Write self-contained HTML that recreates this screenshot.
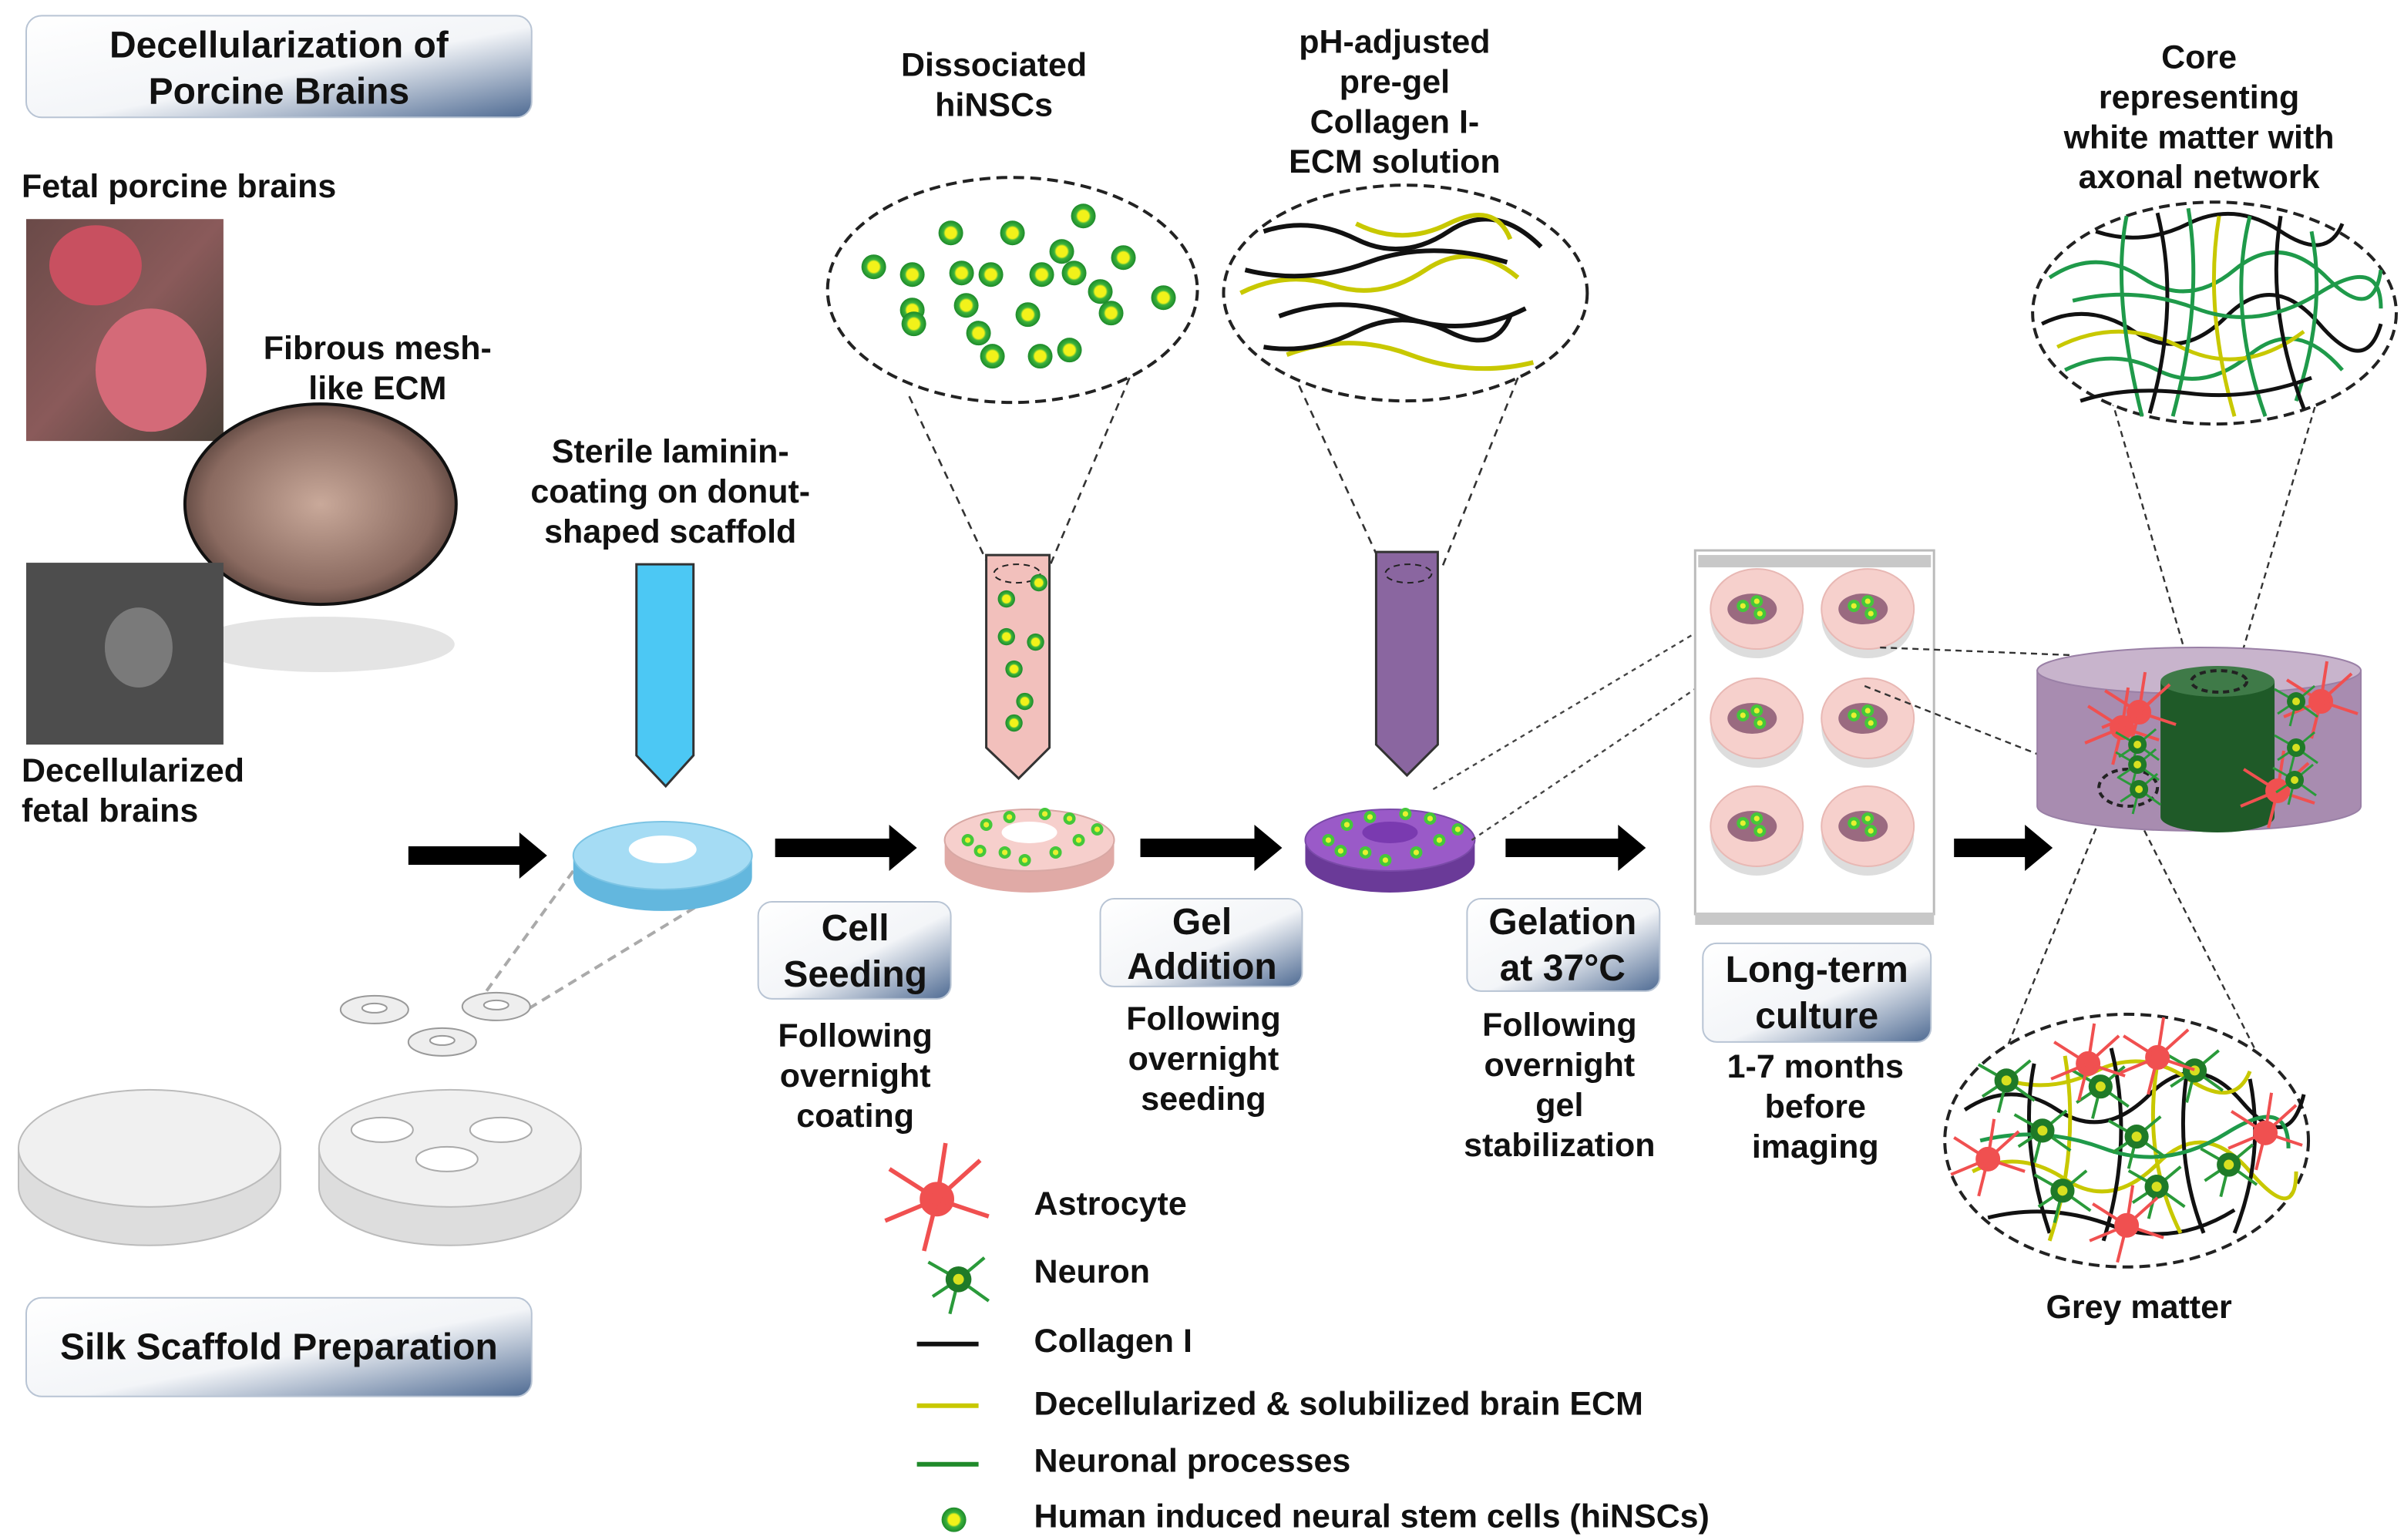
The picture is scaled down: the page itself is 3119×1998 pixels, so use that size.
<!DOCTYPE html>
<html><head><meta charset="utf-8"><style>
html,body{margin:0;padding:0;background:#fff}
svg{display:block}
text{font-family:"Liberation Sans",Arial,sans-serif;font-weight:bold;fill:#111}
</style></head><body>
<svg width="3119" height="1998" viewBox="0 0 1560 999" xmlns="http://www.w3.org/2000/svg">
<defs>
<linearGradient id="bx" x1="0" y1="0" x2="1" y2="1">
<stop offset="0" stop-color="#fff"/><stop offset="0.55" stop-color="#f3f5f8"/><stop offset="1" stop-color="#4f6b93"/></linearGradient>
<linearGradient id="brain" x1="0" y1="0" x2="1" y2="1"><stop offset="0" stop-color="#6a4a48"/><stop offset="0.5" stop-color="#8a5a5a"/><stop offset="1" stop-color="#4a4038"/></linearGradient>
<radialGradient id="ecm" cx="0.5" cy="0.5" r="0.6"><stop offset="0" stop-color="#c9a99a"/><stop offset="0.7" stop-color="#8a6a60"/><stop offset="1" stop-color="#3a2a26"/></radialGradient>
<radialGradient id="cell"><stop offset="0.45" stop-color="#f2f21a"/><stop offset="0.6" stop-color="#3cb33c"/><stop offset="1" stop-color="#1d8a2a"/></radialGradient>
<g id="c"><circle r="8" fill="url(#cell)"/></g>
<g id="sc"><circle r="4" fill="#45c83a"/><circle r="1.8" fill="#e8f030"/></g>
<g id="ast" fill="#f05050" stroke="#f05050" stroke-width="2"><circle r="7"/><path d="M0 0L-22 -14M0 0L20 -18M0 0L24 8M0 0L-6 24M0 0L-24 10M0 0L4 -26" fill="none"/></g>
<g id="neu"><path d="M0 0L-14 -8M0 0L12 -10M0 0L14 10M0 0L-4 16M0 0L-12 8" stroke="#2a9a3a" stroke-width="1.5" fill="none"/><circle r="6" fill="#1f7a28"/><circle r="2.5" fill="#d8e020"/></g>
<g id="dish"><ellipse cx="0" cy="6" rx="30" ry="26" fill="#ddd"/><ellipse cx="0" cy="0" rx="30" ry="26" fill="#f6d0cc" stroke="#e8b8b4"/><ellipse cx="-3" cy="0" rx="16" ry="10" fill="#9a6a80"/><use href="#sc" x="-9" y="-2"/><use href="#sc" x="0" y="-5"/><use href="#sc" x="2" y="3"/></g>
</defs>

<!-- top-left box -->
<rect x="17" y="10" width="328" height="66" rx="10" fill="url(#bx)" stroke="#b8c4d4"/>
<text x="181" y="37" font-size="24" text-anchor="middle">Decellularization of</text>
<text x="181" y="67" font-size="24" text-anchor="middle">Porcine Brains</text>
<text x="14" y="128" font-size="21.5">Fetal porcine brains</text>
<rect x="17" y="142" width="128" height="144" fill="url(#brain)"/>
<ellipse cx="98" cy="240" rx="36" ry="40" fill="#d46a78"/><ellipse cx="62" cy="172" rx="30" ry="26" fill="#c85060"/>
<text x="245" y="233" font-size="21.5" text-anchor="middle">Fibrous mesh-</text>
<text x="245" y="259" font-size="21.5" text-anchor="middle">like ECM</text>
<ellipse cx="210" cy="418" rx="85" ry="18" fill="#e4e4e4"/>
<ellipse cx="208" cy="327" rx="88" ry="65" fill="url(#ecm)" stroke="#111" stroke-width="2"/>
<rect x="17" y="365" width="128" height="118" fill="#4d4d4d"/>
<ellipse cx="90" cy="420" rx="22" ry="26" fill="#7a7a7a"/>
<text x="14" y="507" font-size="21.5">Decellularized</text>
<text x="14" y="533" font-size="21.5">fetal brains</text>

<!-- arrows -->
<g fill="#000">
<path d="M265 549h72v-9l18 15-18 15v-9h-72z"/>
<path d="M503 544h74v-9l18 15-18 15v-9h-74z"/>
<path d="M740 544h74v-9l18 15-18 15v-9h-74z"/>
<path d="M977 544h73v-9l18 15-18 15v-9h-73z"/>
<path d="M1268 544h46v-9l18 15-18 15v-9h-46z"/>
</g>

<!-- silk scaffold -->
<g stroke="#aaa" stroke-width="2" stroke-dasharray="6 4">
<line x1="372" y1="565" x2="312" y2="648"/><line x1="485" y1="568" x2="342" y2="655"/></g>
<path d="M372 555v14a58 22 0 0 0 116 0v-14z" fill="#63b7de"/>
<ellipse cx="430" cy="555" rx="58" ry="22" fill="#a5dcf4" stroke="#7cc4e4"/>
<ellipse cx="430" cy="551" rx="22" ry="9" fill="#fff"/>
<text x="435" y="300" font-size="21.5" text-anchor="middle">Sterile laminin-</text>
<text x="435" y="326" font-size="21.5" text-anchor="middle">coating on donut-</text>
<text x="435" y="352" font-size="21.5" text-anchor="middle">shaped scaffold</text>
<path d="M413 366h37v124l-18 20-19-20z" fill="#4cc8f4" stroke="#333" stroke-width="1.5"/>

<g fill="#f0f0f0" stroke="#bbb">
<path d="M12 745v25a85 38 0 0 0 170 0v-25z" fill="#ddd"/><ellipse cx="97" cy="745" rx="85" ry="38"/>
<path d="M207 745v25a85 38 0 0 0 170 0v-25z" fill="#ddd"/><ellipse cx="292" cy="745" rx="85" ry="38"/>
</g>
<g fill="#fff" stroke="#aaa"><ellipse cx="248" cy="733" rx="20" ry="8"/><ellipse cx="325" cy="733" rx="20" ry="8"/><ellipse cx="290" cy="752" rx="20" ry="8"/></g>
<g fill="#eee" stroke="#999">
<ellipse cx="243" cy="655" rx="22" ry="9"/><ellipse cx="322" cy="653" rx="22" ry="9"/><ellipse cx="287" cy="676" rx="22" ry="9"/></g>
<g fill="#fff" stroke="#999"><ellipse cx="243" cy="654" rx="8" ry="3"/><ellipse cx="322" cy="652" rx="8" ry="3"/><ellipse cx="287" cy="675" rx="8" ry="3"/></g>
<rect x="17" y="842" width="328" height="64" rx="10" fill="url(#bx)" stroke="#b8c4d4"/>
<text x="181" y="882" font-size="24" text-anchor="middle">Silk Scaffold Preparation</text>

<!-- cell seeding -->
<text x="645" y="49" font-size="21.5" text-anchor="middle">Dissociated</text>
<text x="645" y="75" font-size="21.5" text-anchor="middle">hiNSCs</text>
<ellipse cx="657" cy="188" rx="120" ry="73" fill="#fff" stroke="#222" stroke-width="2" stroke-dasharray="7 4"/>
<g stroke="#333" stroke-dasharray="5 4" stroke-width="1.3"><line x1="590" y1="257" x2="643" y2="370"/><line x1="733" y1="245" x2="680" y2="370"/></g>
<g>
<use href="#c" x="703" y="140"/><use href="#c" x="617" y="151"/><use href="#c" x="657" y="151"/><use href="#c" x="567" y="173"/><use href="#c" x="592" y="178"/><use href="#c" x="624" y="177"/><use href="#c" x="643" y="178"/><use href="#c" x="676" y="178"/><use href="#c" x="689" y="163"/><use href="#c" x="697" y="177"/><use href="#c" x="729" y="167"/><use href="#c" x="755" y="193"/><use href="#c" x="714" y="189"/><use href="#c" x="721" y="203"/><use href="#c" x="592" y="201"/><use href="#c" x="593" y="210"/><use href="#c" x="627" y="198"/><use href="#c" x="667" y="204"/><use href="#c" x="635" y="216"/><use href="#c" x="644" y="231"/><use href="#c" x="675" y="231"/><use href="#c" x="694" y="227"/>
</g>
<path d="M640 360h41v125l-20 20-21-20z" fill="#f2c0bc" stroke="#333" stroke-width="1.5"/>
<ellipse cx="660" cy="372" rx="15" ry="6" fill="none" stroke="#222" stroke-dasharray="4 3"/>
<g transform="scale(0.7)" ><use href="#c" x="963" y="540"/><use href="#c" x="933" y="555"/><use href="#c" x="933" y="590"/><use href="#c" x="960" y="595"/><use href="#c" x="940" y="620"/><use href="#c" x="950" y="650"/><use href="#c" x="940" y="670"/></g>
<path d="M613 545v14a55 20 0 0 0 110 0v-14z" fill="#e0aaa6"/>
<ellipse cx="668" cy="545" rx="55" ry="20" fill="#f6cfcc" stroke="#d8a8a4"/>
<ellipse cx="668" cy="540" rx="18" ry="7" fill="#fff"/>
<g><use href="#sc" x="628" y="545"/><use href="#sc" x="640" y="535"/><use href="#sc" x="652" y="553"/><use href="#sc" x="665" y="558"/><use href="#sc" x="685" y="553"/><use href="#sc" x="700" y="545"/><use href="#sc" x="712" y="538"/><use href="#sc" x="694" y="531"/><use href="#sc" x="655" y="530"/><use href="#sc" x="678" y="528"/><use href="#sc" x="636" y="552"/></g>
<rect x="492" y="585" width="125" height="63" rx="9" fill="url(#bx)" stroke="#b8c4d4"/>
<text x="555" y="610" font-size="24" text-anchor="middle">Cell</text>
<text x="555" y="640" font-size="24" text-anchor="middle">Seeding</text>
<text x="555" y="679" font-size="21.5" text-anchor="middle">Following</text>
<text x="555" y="705" font-size="21.5" text-anchor="middle">overnight</text>
<text x="555" y="731" font-size="21.5" text-anchor="middle">coating</text>

<!-- gel addition -->
<text x="905" y="34" font-size="21.5" text-anchor="middle">pH-adjusted</text>
<text x="905" y="60" font-size="21.5" text-anchor="middle">pre-gel</text>
<text x="905" y="86" font-size="21.5" text-anchor="middle">Collagen I-</text>
<text x="905" y="112" font-size="21.5" text-anchor="middle">ECM solution</text>
<ellipse cx="912" cy="190" rx="118" ry="70" fill="#fff" stroke="#222" stroke-width="2" stroke-dasharray="7 4"/>
<g stroke="#333" stroke-dasharray="5 4" stroke-width="1.3"><line x1="843" y1="250" x2="898" y2="370"/><line x1="985" y1="245" x2="935" y2="370"/></g>
<g fill="none" stroke-width="3">
<path d="M820 150q30 -10 60 5t60 -5t60 10" stroke="#111"/>
<path d="M805 190q30 -15 60 -5t60 -10t60 5" stroke="#c8c800"/>
<path d="M808 175q40 10 80 -5t90 0" stroke="#111"/>
<path d="M830 205q40 -15 80 0t80 -5" stroke="#111"/>
<path d="M835 230q40 -15 80 0t80 5" stroke="#c8c800"/>
<path d="M820 225q30 5 60 -10t60 0t40 -10" stroke="#111"/>
<path d="M880 145q30 15 60 0t40 10" stroke="#c8c800"/>
</g>
<path d="M893 358h40v125l-20 20-20-20z" fill="#8a66a0" stroke="#333" stroke-width="1.5"/>
<ellipse cx="914" cy="372" rx="15" ry="6" fill="none" stroke="#222" stroke-dasharray="4 3"/>
<path d="M847 545v14a55 20 0 0 0 110 0v-14z" fill="#6a3a98"/>
<ellipse cx="902" cy="545" rx="55" ry="20" fill="#9a5ac8" stroke="#7a4aa8"/>
<ellipse cx="902" cy="540" rx="18" ry="7" fill="#7a3ab0"/>
<g><use href="#sc" x="862" y="545"/><use href="#sc" x="874" y="535"/><use href="#sc" x="886" y="553"/><use href="#sc" x="899" y="558"/><use href="#sc" x="919" y="553"/><use href="#sc" x="934" y="545"/><use href="#sc" x="946" y="538"/><use href="#sc" x="928" y="531"/><use href="#sc" x="889" y="530"/><use href="#sc" x="912" y="528"/><use href="#sc" x="870" y="552"/></g>
<rect x="714" y="583" width="131" height="57" rx="9" fill="url(#bx)" stroke="#b8c4d4"/>
<text x="780" y="606" font-size="24" text-anchor="middle">Gel</text>
<text x="780" y="635" font-size="24" text-anchor="middle">Addition</text>
<text x="781" y="668" font-size="21.5" text-anchor="middle">Following</text>
<text x="781" y="694" font-size="21.5" text-anchor="middle">overnight</text>
<text x="781" y="720" font-size="21.5" text-anchor="middle">seeding</text>

<!-- gelation -->
<g stroke="#444" stroke-dasharray="3 3" stroke-width="1.2"><line x1="930" y1="512" x2="1118" y2="400"/><line x1="955" y1="545" x2="1125" y2="430"/></g>
<rect x="952" y="583" width="125" height="60" rx="9" fill="url(#bx)" stroke="#b8c4d4"/>
<text x="1014" y="606" font-size="24" text-anchor="middle">Gelation</text>
<text x="1014" y="636" font-size="24" text-anchor="middle">at 37°C</text>
<text x="1012" y="672" font-size="21.5" text-anchor="middle">Following</text>
<text x="1012" y="698" font-size="21.5" text-anchor="middle">overnight</text>
<text x="1012" y="724" font-size="21.5" text-anchor="middle">gel</text>
<text x="1012" y="750" font-size="21.5" text-anchor="middle">stabilization</text>

<!-- plate -->
<rect x="1100" y="357" width="155" height="236" fill="#fff" stroke="#bbb" stroke-width="1.5"/>
<rect x="1102" y="360" width="151" height="8" fill="#c8c8c8"/>
<rect x="1100" y="592" width="155" height="8" fill="#c8c8c8"/>
<use href="#dish" x="1140" y="395"/><use href="#dish" x="1212" y="395"/>
<use href="#dish" x="1140" y="466"/><use href="#dish" x="1212" y="466"/>
<use href="#dish" x="1140" y="536"/><use href="#dish" x="1212" y="536"/>
<rect x="1105" y="612" width="148" height="64" rx="9" fill="url(#bx)" stroke="#b8c4d4"/>
<text x="1179" y="637" font-size="24" text-anchor="middle">Long-term</text>
<text x="1179" y="667" font-size="24" text-anchor="middle">culture</text>
<text x="1178" y="699" font-size="21.5" text-anchor="middle">1-7 months</text>
<text x="1178" y="725" font-size="21.5" text-anchor="middle">before</text>
<text x="1178" y="751" font-size="21.5" text-anchor="middle">imaging</text>

<!-- cylinder -->
<g stroke="#333" stroke-dasharray="4 3" stroke-width="1.2" fill="none">
<line x1="1220" y1="420" x2="1345" y2="425"/><line x1="1210" y1="445" x2="1370" y2="508"/>
<line x1="1345" y1="172" x2="1420" y2="430"/><line x1="1530" y1="170" x2="1453" y2="430"/>
<line x1="1368" y1="518" x2="1290" y2="710"/><line x1="1382" y1="520" x2="1468" y2="690"/>
</g>
<path d="M1322 435v88a105 16 0 0 0 210 0v-88z" fill="#a88cb0" stroke="#9a80a6"/>
<ellipse cx="1427" cy="435" rx="105" ry="15" fill="#c8b4cc" stroke="#9a80a6"/>
<path d="M1402 442v88a37 10 0 0 0 74 0v-88z" fill="#1f5a28"/>
<ellipse cx="1439" cy="442" rx="37" ry="10" fill="#3f7a48"/>
<ellipse cx="1440" cy="442" rx="18" ry="7" fill="none" stroke="#222" stroke-width="2" stroke-dasharray="4 3"/>
<ellipse cx="1381" cy="511" rx="19" ry="12" fill="none" stroke="#222" stroke-width="2" stroke-dasharray="4 3"/>
<use href="#ast" x="1388" y="462"/><use href="#ast" x="1377" y="472"/><use href="#ast" x="1506" y="455"/><use href="#ast" x="1478" y="513"/>
<use href="#neu" x="1387" y="483"/><use href="#neu" x="1387" y="496"/><use href="#neu" x="1388" y="512"/>
<use href="#neu" x="1490" y="455"/><use href="#neu" x="1490" y="485"/><use href="#neu" x="1489" y="506"/>

<text x="1427" y="44" font-size="21.5" text-anchor="middle">Core</text>
<text x="1427" y="70" font-size="21.5" text-anchor="middle">representing</text>
<text x="1427" y="96" font-size="21.5" text-anchor="middle">white matter with</text>
<text x="1427" y="122" font-size="21.5" text-anchor="middle">axonal network</text>
<ellipse cx="1437" cy="203" rx="118" ry="72" fill="#fff" stroke="#222" stroke-width="2" stroke-dasharray="7 4"/>
<g fill="none" stroke-width="2.5">
<path d="M1330 180q30 -20 60 0t60 -5t60 5t35 -5" stroke="#1f9a4a"/>
<path d="M1325 210q30 -15 60 5t60 -10t60 5t40 0" stroke="#111"/>
<path d="M1340 240q30 -15 60 0t60 -10t60 10" stroke="#1f9a4a"/>
<path d="M1360 150q30 10 60 -5t60 5t40 -5" stroke="#111"/>
<path d="M1335 225q40 -20 80 0t80 -10" stroke="#c8c800"/>
<path d="M1380 140q-10 50 10 130M1420 135q10 60 -10 135M1460 140q-15 60 10 130M1500 150q10 50 -10 110" stroke="#1f9a4a"/>
<path d="M1400 138q15 60 -5 130M1480 140q-10 60 15 125" stroke="#111"/>
<path d="M1440 140q-10 60 10 130" stroke="#c8c800"/>
<path d="M1345 195q40 -10 80 5t80 -10t40 10" stroke="#1f9a4a"/>
<path d="M1350 260q30 -10 70 -5t80 -10" stroke="#111"/>
</g>

<ellipse cx="1380" cy="740" rx="118" ry="82" fill="#fff" stroke="#222" stroke-width="2" stroke-dasharray="7 4"/>
<g fill="none" stroke-width="2.5">
<path d="M1275 720q30 -20 60 0t60 -10t60 5t40 -5" stroke="#111"/>
<path d="M1280 760q30 -15 60 5t60 -10t60 5t30 0" stroke="#c8c800"/>
<path d="M1290 790q40 -10 80 5t80 -10" stroke="#111"/>
<path d="M1300 700q30 10 60 -5t60 5t40 -5" stroke="#c8c800"/>
<path d="M1320 690q-10 50 10 110M1370 680q15 60 -5 125M1420 690q-10 60 10 110M1460 700q10 50 -10 100" stroke="#111"/>
<path d="M1340 685q10 60 -10 120M1400 690q-10 60 15 110" stroke="#c8c800"/>
<path d="M1285 740q40 -10 80 5t80 -10t40 10" stroke="#1f9a4a"/>
</g>
<g transform="translate(1380 740) scale(1.3) translate(-1380 -740)">
<use href="#neu" x="1320" y="710"/><use href="#neu" x="1367" y="713"/><use href="#neu" x="1414" y="705"/><use href="#neu" x="1338" y="735"/><use href="#neu" x="1385" y="738"/><use href="#neu" x="1431" y="752"/><use href="#neu" x="1348" y="765"/><use href="#neu" x="1395" y="763"/>
</g>
<use href="#ast" x="1355" y="690"/><use href="#ast" x="1400" y="686"/><use href="#ast" x="1290" y="752"/><use href="#ast" x="1470" y="735"/><use href="#ast" x="1380" y="795"/>
<text x="1388" y="855" font-size="21.5" text-anchor="middle">Grey matter</text>

<!-- legend -->
<use href="#ast" x="608" y="778" transform="translate(608 778) scale(1.4) translate(-608 -778)"/>
<text x="671" y="788" font-size="21.5">Astrocyte</text>
<use href="#neu" x="622" y="830" transform="translate(622 830) scale(1.4) translate(-622 -830)"/>
<text x="671" y="832" font-size="21.5">Neuron</text>
<line x1="595" y1="872" x2="635" y2="872" stroke="#111" stroke-width="3"/>
<text x="671" y="877" font-size="21.5">Collagen I</text>
<line x1="595" y1="912" x2="635" y2="912" stroke="#c8c800" stroke-width="3"/>
<text x="671" y="918" font-size="21.5">Decellularized &amp; solubilized brain ECM</text>
<line x1="595" y1="950" x2="635" y2="950" stroke="#1f8a2a" stroke-width="3"/>
<text x="671" y="955" font-size="21.5">Neuronal processes</text>
<use href="#c" x="619" y="986"/>
<text x="671" y="991" font-size="21.5">Human induced neural stem cells (hiNSCs)</text>
</svg>
</body></html>
